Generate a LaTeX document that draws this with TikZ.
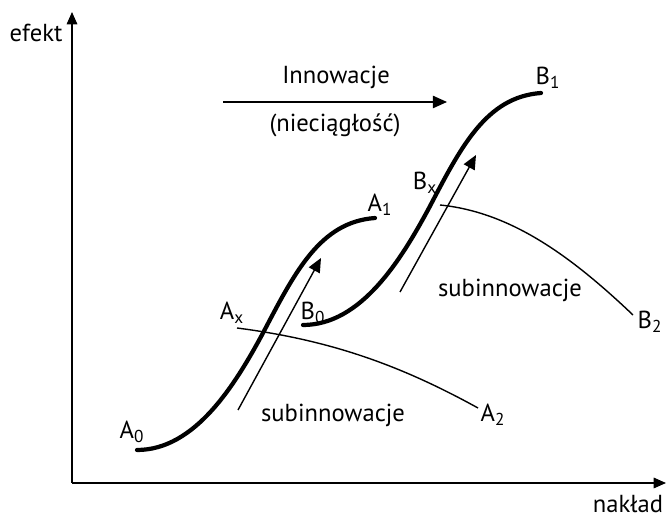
\documentclass[tikz,border=0pt]{standalone}
\usepackage{fontspec}
\setmainfont{PT Sans}
\usetikzlibrary{arrows.meta}

\tikzset{
  axis/.style={line width=0.8pt, -{Triangle[length=7pt,width=6pt]}},
  scurve/.style={line width=2.4pt, line cap=round},
  thinline/.style={line width=0.8pt},
  thinarrow/.style={line width=0.8pt, -{Triangle[length=8pt,width=7pt]}},
  lbl/.style={font=\fontsize{14}{16}\selectfont, inner sep=0pt}
}

\begin{document}
\begin{tikzpicture}

                % frame of the picture
                \useasboundingbox (0,0) rectangle (13.34,10.34);

                % ==========================================
                % AXES
                % ==========================================

                \coordinate (O)    at (1.44, 0.68);
                \coordinate (Ytop) at (1.44, 10.10);
                \coordinate (Xend) at (13.32, 0.68);

                \draw[axis] (O) -- (Ytop);
                \draw[axis] (O) -- (Xend);

                \node[lbl] (efekt)  at (0.72, 9.68) {efekt};
                \node[lbl] (naklad) at (12.56, 0.26) {nakład};

                % ==========================================
                % FIRST S-CURVE (A)
                % ==========================================

                \coordinate (A0) at (2.74, 1.34);
                \coordinate (Am) at (5.26, 3.68); % inflection
                \coordinate (A1) at (7.50, 5.98);

                \draw[scurve] (A0) .. controls (3.90, 1.34) and (4.70, 2.64) .. (Am)
                                   .. controls (5.90, 4.90) and (6.40, 5.90) .. (A1);

                % subinnovation branch A_x -> A_2
                \coordinate (Ax) at (4.74, 3.78);
                \coordinate (A2) at (9.56, 2.18);
                \draw[thinline] (Ax) .. controls (6.60, 3.54) and (8.00, 3.04) .. (A2);

                % arrow along the curve
                \coordinate (Aa) at (4.76, 2.14);
                \coordinate (Ab) at (6.42, 5.18);
                \draw[thinarrow] (Aa) -- (Ab);

                % ==========================================
                % SECOND S-CURVE (B)
                % ==========================================

                \coordinate (B0) at (6.06, 3.84);
                \coordinate (Bm) at (8.58, 6.18); % inflection
                \coordinate (B1) at (10.82, 8.48);

                \draw[scurve] (B0) .. controls (7.22, 3.84) and (8.02, 5.14) .. (Bm)
                                   .. controls (9.22, 7.40) and (9.72, 8.40) .. (B1);

                % subinnovation branch B_x -> B_2
                \coordinate (Bx) at (8.80, 6.24);
                \coordinate (B2) at (12.66, 4.04);
                \draw[thinline] (Bx) .. controls (10.20, 6.10) and (11.40, 5.24) .. (B2);

                % arrow along the curve
                \coordinate (Ba) at (8.00, 4.50);
                \coordinate (Bb) at (9.52, 7.24);
                \draw[thinarrow] (Ba) -- (Bb);

                % ==========================================
                % INNOVATION JUMP
                % ==========================================

                \coordinate (Ia) at (4.46, 8.30);
                \coordinate (Ib) at (8.94, 8.30);
                \draw[thinarrow] (Ia) -- (Ib);

                \node[lbl] (innow) at (6.72, 8.80) {Innowacje};
                \node[lbl] (niec)  at (6.70, 7.84) {(nieciągłość)};

                % ==========================================
                % LABELS
                % ==========================================

                \node[lbl] (lA0) at (2.64, 1.70) {A\textsubscript{0}};
                \node[lbl] (lAx) at (4.64, 4.08) {A\textsubscript{x}};
                \node[lbl] (lA1) at (7.60, 6.24) {A\textsubscript{1}};
                \node[lbl] (lA2) at (9.86, 2.04) {A\textsubscript{2}};
                \node[lbl] (lB0) at (6.26, 4.08) {B\textsubscript{0}};
                \node[lbl] (lBx) at (8.50, 6.68) {B\textsubscript{x}};
                \node[lbl] (lB1) at (10.96, 8.78) {B\textsubscript{1}};
                \node[lbl] (lB2) at (13.00, 3.90) {B\textsubscript{2}};

                \node[lbl] (subA) at (6.66, 2.04) {subinnowacje};
                \node[lbl] (subB) at (10.20, 4.54) {subinnowacje};

\end{tikzpicture}
\end{document}
